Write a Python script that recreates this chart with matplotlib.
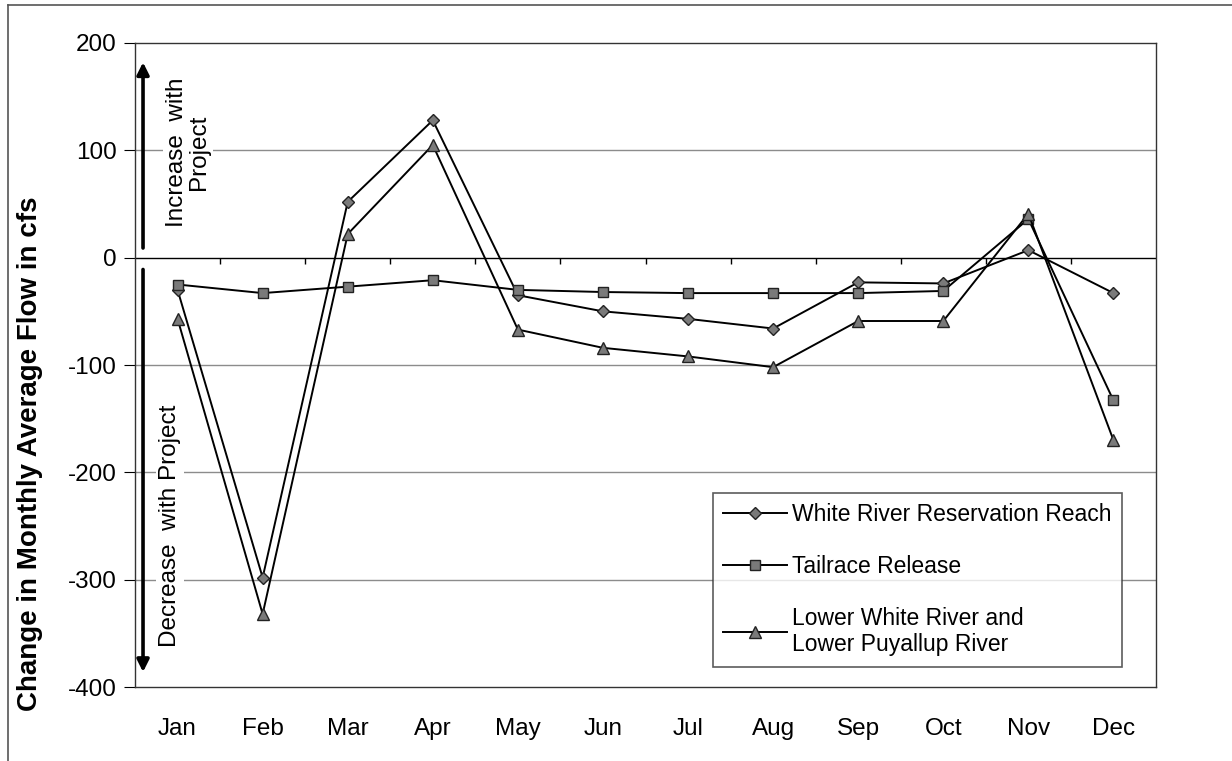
import matplotlib.pyplot as plt
from matplotlib.lines import Line2D

plt.rcParams['font.family'] = ['Liberation Sans', 'DejaVu Sans']
plt.rcParams['axes.unicode_minus'] = False

months = ['Jan', 'Feb', 'Mar', 'Apr', 'May', 'Jun', 'Jul', 'Aug', 'Sep', 'Oct', 'Nov', 'Dec']
reservation_reach = [-30, -298, 52, 128, -35, -50, -57, -66, -23, -24, 7, -33]
tailrace = [-25, -33, -27, -21, -30, -32, -33, -33, -33, -31, 36, -133]
lower_rivers = [-57, -332, 22, 105, -67, -84, -92, -102, -59, -59, 41, -170]

x = list(range(len(months)))

fig = plt.figure(figsize=(12.32, 7.61), dpi=100)
ax = fig.add_axes([0.1096, 0.0972, 0.8287, 0.8463])

style = dict(color='black', lw=1.4, markerfacecolor='#7a7a7a',
             markeredgecolor='#222222', markeredgewidth=1.0)
ax.plot(x, reservation_reach, marker='D', markersize=6.5, label='White River Reservation Reach', **style)
ax.plot(x, tailrace, marker='s', markersize=7.5, label='Tailrace Release', **style)
ax.plot(x, lower_rivers, marker='^', markersize=8.5, label='Lower White River and\nLower Puyallup River', **style)

ax.set_xlim(-0.5, 11.5)
ax.set_ylim(-400, 200)
ax.set_yticks([-400, -300, -200, -100, 0, 100, 200])
ax.set_xticks(x)
ax.set_xticklabels(months)
ax.tick_params(axis='x', length=0, pad=22, labelsize=17.5)
ax.tick_params(axis='y', length=8, direction='out', labelsize=17.5, pad=5)

for g in [-300, -200, -100, 100]:
    ax.axhline(g, color='#8c8c8c', lw=1.0, zorder=0)
ax.axhline(0, color='black', lw=1.0, zorder=1)
# category tick marks hanging from the zero line
ax.vlines([b + 0.5 for b in range(11)], -6, 0, color='black', lw=1.0)

for s in ax.spines.values():
    s.set_color('#333333')
    s.set_linewidth(1.0)

fig.text(30 / 1232, 1 - 454 / 761, 'Change in Monthly Average Flow in cfs', rotation=90,
         ha='center', va='center', fontsize=20, fontweight='bold')

arrow = dict(arrowstyle='-|>', color='black', lw=2.6, mutation_scale=18, shrinkA=0, shrinkB=0)
ax.annotate('', xy=(-0.406, 182), xytext=(-0.406, 9), arrowprops=arrow)
ax.annotate('', xy=(-0.406, -386), xytext=(-0.406, -11), arrowprops=arrow)

ax.text(0.123, 98, 'Increase  with\nProject', rotation=90, ha='center', va='center',
        fontsize=17.5, linespacing=1.0, bbox=dict(facecolor='white', edgecolor='none', pad=2))
ax.text(-0.089, -250, 'Decrease  with Project', rotation=90, ha='center', va='center',
        fontsize=17.5, bbox=dict(facecolor='white', edgecolor='none', pad=2))

leg = ax.legend(loc='upper left', bbox_to_anchor=(713 / 1232, 1 - 493 / 761),
                bbox_transform=fig.transFigure, fontsize=16.5, frameon=True, fancybox=False,
                edgecolor='#333333', handlelength=2.8, labelspacing=1.25, borderpad=0.45,
                handletextpad=0.2, borderaxespad=0)
leg.get_frame().set_linewidth(1.2)

fig.add_artist(Line2D([8 / 1232, 1], [1 - 5 / 761, 1 - 5 / 761], color='#555555', lw=1.2))
fig.add_artist(Line2D([8 / 1232, 8 / 1232], [0, 1 - 5 / 761], color='#555555', lw=1.2))

fig.savefig('out.png', dpi=100)
